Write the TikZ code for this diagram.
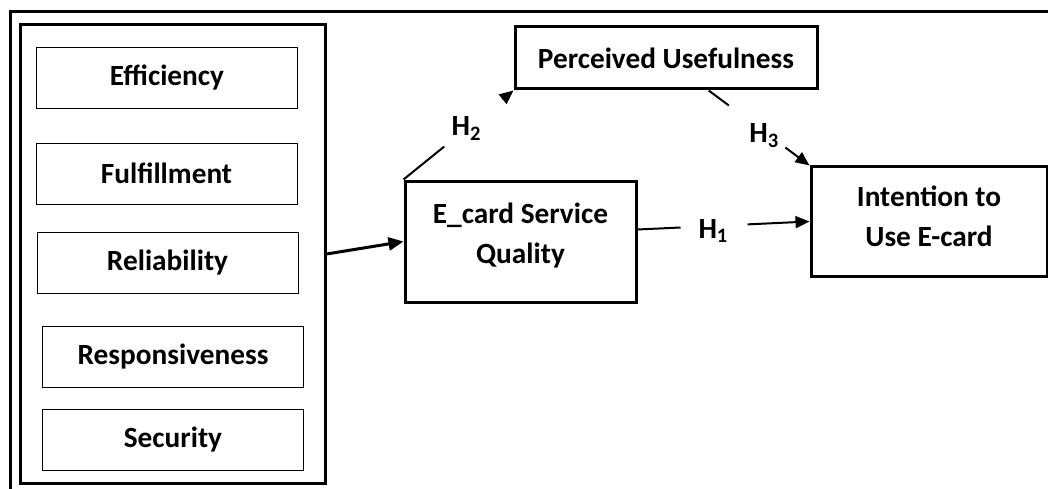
\documentclass[tikz,border=0pt]{standalone}
\usepackage{fontspec}
\setmainfont{Carlito}
\usetikzlibrary{arrows.meta,calc}
\begin{document}
\begin{tikzpicture}[x=1pt,y=-1pt,
  font=\fontsize{29.3}{40}\selectfont\bfseries,
  thinbox/.style={draw,line width=0.9pt,minimum width=261pt,minimum height=61pt,inner sep=0pt},
  bigbox/.style={draw,line width=3pt,inner sep=0pt,align=center},
  conn/.style={line width=2pt},
  arr/.style={line width=2pt,-{Triangle[length=14pt,width=12pt]}},
  hlab/.style={inner sep=0pt}]
\useasboundingbox (0,0) rectangle (1048,489);
% outer partial frame
\coordinate (ftl) at (10,12);
\coordinate (ftr) at (1048,12);
\coordinate (fbl) at (10,489);
\draw[line width=3pt] (fbl) -- (ftl) -- (ftr);
% container
\node[draw,line width=3pt,minimum width=305pt,minimum height=458pt,inner sep=0pt] (group) at (172.5,254) {};
\node[thinbox] (eff) at (167,77.5) {Efficiency};
\node[thinbox] (ful) at (166.5,173.5) {Fulfillment};
\node[thinbox] (rel) at (167.5,262.5) {Reliability};
\node[thinbox] (res) at (173,356.5) {Responsiveness};
\node[thinbox] (sec) at (173,439.5) {Security};
% main boxes
\node[bigbox,minimum width=302pt,minimum height=62pt] (pu) at (666,58) {Perceived Usefulness};
\node[bigbox,minimum width=231pt,minimum height=121pt] (ec) at (520.5,241.5) {E\_card Service\\Quality\\[-24pt]};
\node[bigbox,minimum width=236pt,minimum height=109pt] (it) at (929,221.5) {Intention to\\Use E-card\\[-30pt]};
% Reliability group -> E_card
\draw[line width=3pt,-{Triangle[length=15pt,width=13pt]}] (group.east) -- (ec.west);
% H2
\coordinate (h2a) at (ec.north west);
\coordinate (h2b) at (pu.south west);
\draw[conn] (h2a) -- ($(h2a)!0.37!(h2b)$);
\draw[arr] ($(h2a)!0.9!(h2b)$) -- (h2b);
\node[hlab] (h2) at ($(h2a)!0.57!(h2b)$) {H\textsubscript{2}};
% H3
\coordinate (h3a) at ($(pu.south west)!0.64!(pu.south east)$);
\coordinate (h3b) at (it.north west);
\draw[conn] (h3a) -- ($(h3a)!0.2!(h3b)$);
\draw[arr] ($(h3a)!0.76!(h3b)$) -- (h3b);
\node[hlab] (h3) at ($(h3a)!0.55!(h3b)+(0,4)$) {H\textsubscript{3}};
% H1
\coordinate (h1a) at ([yshift=12pt]ec.east);
\coordinate (h1b) at (it.west);
\draw[conn] (h1a) -- ($(h1a)!0.25!(h1b)$);
\draw[arr] ($(h1a)!0.64!(h1b)$) -- (h1b);
\node[hlab] (h1) at ($(h1a)!0.44!(h1b)+(0,5)$) {H\textsubscript{1}};
\end{tikzpicture}
\end{document}
